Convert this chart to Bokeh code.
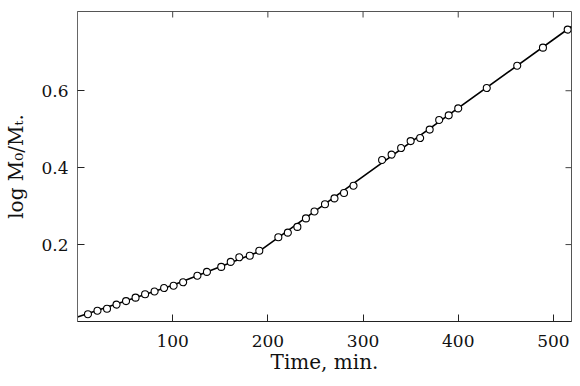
from bokeh.plotting import figure
from bokeh.models import Range1d, FixedTicker, ColumnDataSource
from bokeh.embed import file_html
from bokeh.resources import INLINE

# measured points (time in minutes, log M0/Mt)
time_min = [11, 21, 31, 41, 51, 61, 71, 81, 91, 101, 111, 126, 136, 151, 161, 170, 181, 191,
            211, 221, 231, 240, 249, 260, 270, 280, 290,
            320, 330, 340, 350, 360, 370, 380, 390, 400, 430, 462, 489, 515]
log_ratio = [0.019, 0.028, 0.033, 0.044, 0.053, 0.062, 0.071, 0.078, 0.087, 0.093, 0.102, 0.119,
             0.129, 0.142, 0.155, 0.167, 0.171, 0.184,
             0.219, 0.231, 0.246, 0.268, 0.286, 0.305, 0.320, 0.334, 0.353,
             0.420, 0.434, 0.451, 0.469, 0.477, 0.499, 0.524, 0.536, 0.554, 0.607, 0.665, 0.712, 0.759]

# drawn fitted line
fit_time = [0, 100, 190, 519]
fit_value = [0.012, 0.094, 0.181, 0.767]

x_ticks = [100, 200, 300, 400, 500]
y_ticks = [0.2, 0.4, 0.6]
x_max = 519
y_max = 0.806

FONT = "DejaVu Serif"
FRAME_W, FRAME_H = 494, 310

p = figure(width=572, height=378, output_backend="svg", toolbar_location=None,
           x_range=Range1d(0, x_max), y_range=Range1d(0, y_max),
           min_border_left=77, min_border_right=1, min_border_top=11, min_border_bottom=57,
           x_axis_label="Time, min.", y_axis_label="log M\u2080/M\u209c.")
p.background_fill_color = "white"
p.border_fill_color = "white"
p.grid.visible = False
p.outline_line_color = "#555555"
p.outline_line_width = 1

for ax in (p.xaxis[0], p.yaxis[0]):
    ax.major_tick_in = 7
    ax.major_tick_out = 0
    ax.minor_tick_in = 0
    ax.minor_tick_out = 0
    ax.axis_line_color = "#222222"
    ax.major_tick_line_color = "#222222"
    ax.major_label_text_font = FONT
    ax.major_label_text_font_size = "17px"
    ax.major_label_text_color = "#111111"
    ax.axis_label_text_font = FONT
    ax.axis_label_text_font_size = "20px"
    ax.axis_label_text_font_style = "normal"
    ax.axis_label_text_color = "#111111"

p.yaxis[0].axis_line_color = "#666666"
p.xaxis[0].ticker = FixedTicker(ticks=x_ticks)
p.yaxis[0].ticker = FixedTicker(ticks=y_ticks)
p.xaxis[0].major_label_standoff = 13
p.xaxis[0].axis_label_standoff = 0
p.yaxis[0].major_label_standoff = 9
p.yaxis[0].axis_label_standoff = 10

# mirrored inward ticks on the top and right frame edges (6 px long, clipped to the frame)
dy = 6 * y_max / FRAME_H
dx = 6 * x_max / FRAME_W
p.segment(x0=x_ticks, y0=[y_max + dy] * len(x_ticks), x1=x_ticks, y1=[y_max - dy] * len(x_ticks),
          line_color="#444444", line_width=1)
p.segment(x0=[x_max + dx] * len(y_ticks), y0=y_ticks, x1=[x_max - dx] * len(y_ticks), y1=y_ticks,
          line_color="#444444", line_width=1)

p.line(fit_time, fit_value, line_color="black", line_width=1.6)
src = ColumnDataSource(dict(t=time_min, v=log_ratio))
p.scatter("t", "v", source=src, marker="circle", size=7, line_color="black",
          line_width=1.1, fill_color="white")

open("out.html", "w").write(file_html(p, INLINE))
